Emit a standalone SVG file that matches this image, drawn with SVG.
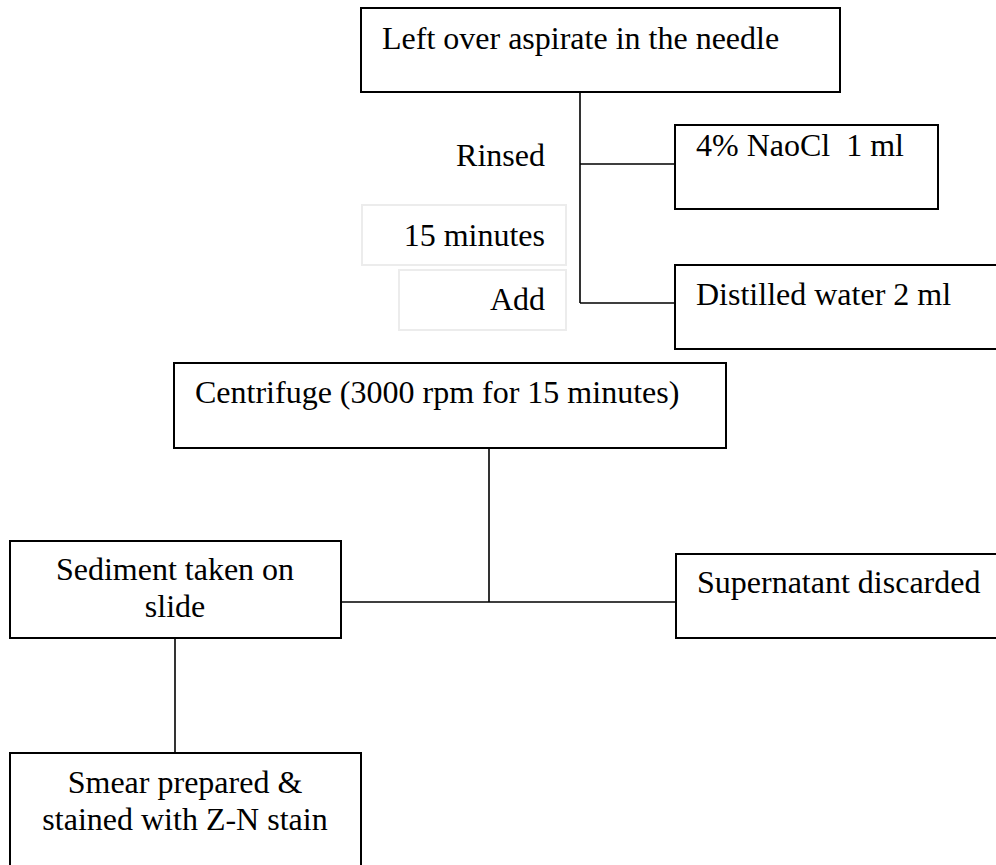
<svg xmlns="http://www.w3.org/2000/svg" width="996" height="865" viewBox="0 0 996 865">
<style>
.box{fill:#fff;stroke:#000;stroke-width:2}
.lbl{fill:#fff;stroke:#ececec;stroke-width:2}
.t{font-family:"Liberation Serif","Times New Roman",serif;font-size:32px;fill:#000;white-space:pre}
.e{text-anchor:end}
.m{text-anchor:middle}
.c{fill:none;stroke:#000;stroke-width:1.6}
</style>
<rect x="0" y="0" width="996" height="865" fill="#fff"/>
<g id="connectors">
<path class="c" d="M580 92V303M580 164H675M580 303H675"/>
<path class="c" d="M489 448V602M341 602H676"/>
<path class="c" d="M175 638V753"/>
</g>
<g id="n-top"><rect class="box" x="361" y="8" width="479" height="84"/><text class="t" x="382" y="49">Left over aspirate in the needle</text></g>
<g id="n-rinsed"><text class="t e" x="545" y="166">Rinsed</text></g>
<g id="n-15min"><rect class="lbl" x="362" y="205" width="204" height="60"/><text class="t e" x="545" y="246">15 minutes</text></g>
<g id="n-add"><rect class="lbl" x="399" y="270" width="167" height="60"/><text class="t e" x="545" y="310">Add</text></g>
<g id="n-naocl"><rect class="box" x="675" y="125" width="263" height="84"/><text class="t" x="696" y="156">4% NaoCl  1 ml</text></g>
<g id="n-water"><rect class="box" x="675" y="265" width="330" height="84"/><text class="t" x="696" y="305">Distilled water 2 ml</text></g>
<g id="n-centrifuge"><rect class="box" x="174" y="363" width="552" height="85"/><text class="t" x="195" y="403">Centrifuge (3000 rpm for 15 minutes)</text></g>
<g id="n-sediment"><rect class="box" x="10" y="541" width="331" height="97"/><text class="t m" x="175" y="580">Sediment taken on</text><text class="t m" x="175" y="617">slide</text></g>
<g id="n-supernatant"><rect class="box" x="676" y="554" width="330" height="84"/><text class="t" x="697" y="593">Supernatant discarded</text></g>
<g id="n-smear"><rect class="box" x="10" y="753" width="351" height="130"/><text class="t m" x="185" y="793">Smear prepared &amp;</text><text class="t m" x="185" y="830">stained with Z-N stain</text></g>
</svg>
